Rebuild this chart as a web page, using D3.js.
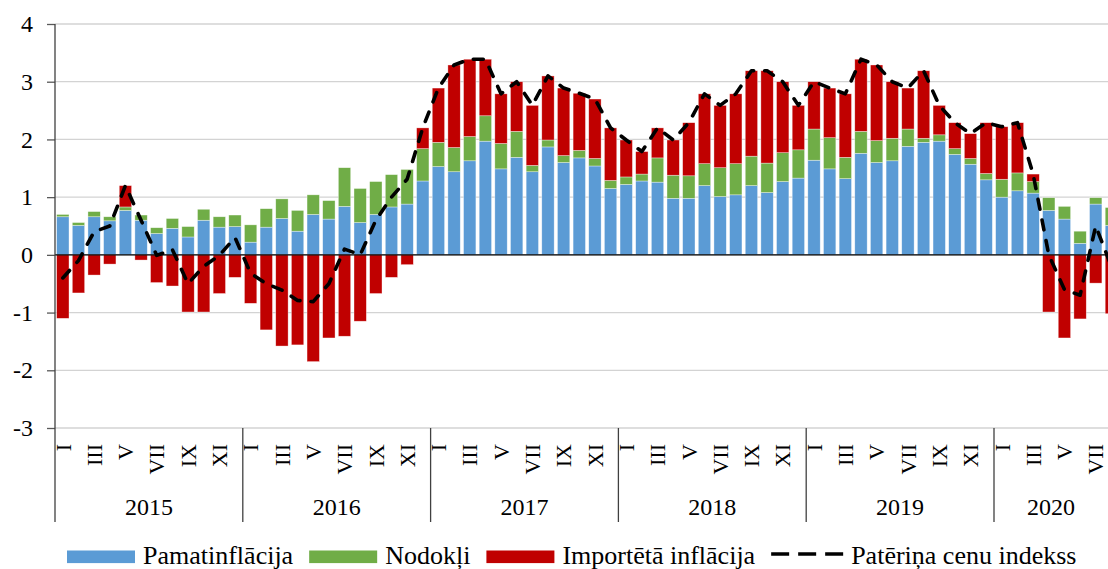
<!doctype html>
<html>
<head>
<meta charset="utf-8">
<style>
  body { margin: 0; background: #fff; }
  svg { display: block; font-family: "Liberation Serif", "Times New Roman", serif; }
  .grid line { stroke: #d3d3d3; stroke-width: 1.3; }
</style>
<script src="https://d3js.org/d3.v7.min.js"></script>
</head>
<body>
<svg width="1108" height="569"></svg>
<script>
// monthly data, Jan 2015 - Aug 2020
var years = ["2015", "2016", "2017", "2018", "2019", "2020"];
var monthLabels = ["I", "", "III", "", "V", "", "VII", "", "IX", "", "XI", ""];

var pamatinflacija = [
  0.66, 0.51, 0.66, 0.59, 0.77, 0.60, 0.37, 0.46, 0.31, 0.60, 0.48, 0.49,
  0.22, 0.48, 0.63, 0.41, 0.70, 0.62, 0.84, 0.56, 0.70, 0.83, 0.88, 1.28,
  1.53, 1.44, 1.63, 1.97, 1.49, 1.69, 1.44, 1.87, 1.60, 1.68, 1.54, 1.15,
  1.22, 1.28, 1.26, 0.98, 0.98, 1.20, 1.01, 1.04, 1.20, 1.08, 1.27, 1.33,
  1.64, 1.49, 1.32, 1.76, 1.60, 1.63, 1.88, 1.95, 1.97, 1.74, 1.57, 1.30,
  1.00, 1.11, 1.07, 0.77, 0.62, 0.20, 0.88, 0.51
];
var nodokli = [
  0.04, 0.05, 0.09, 0.07, 0.06, 0.09, 0.10, 0.17, 0.18, 0.19, 0.18, 0.20,
  0.30, 0.32, 0.34, 0.36, 0.34, 0.32, 0.67, 0.59, 0.57, 0.56, 0.60, 0.56,
  0.42, 0.42, 0.42, 0.44, 0.44, 0.45, 0.11, 0.12, 0.12, 0.13, 0.13, 0.14,
  0.13, 0.12, 0.42, 0.40, 0.39, 0.38, 0.50, 0.54, 0.51, 0.51, 0.50, 0.49,
  0.54, 0.54, 0.37, 0.38, 0.38, 0.39, 0.30, 0.07, 0.11, 0.10, 0.10, 0.11,
  0.31, 0.31, 0.20, 0.22, 0.22, 0.21, 0.11, 0.31
];
var importeta = [
  -1.10, -0.66, -0.35, -0.16, 0.37, -0.09, -0.48, -0.54, -0.99, -0.99, -0.67, -0.39,
  -0.84, -1.30, -1.58, -1.56, -1.85, -1.44, -1.41, -1.15, -0.67, -0.39, -0.17, 0.36,
  0.94, 1.43, 1.34, 0.98, 0.86, 0.86, 1.04, 1.11, 1.17, 0.99, 1.03, 0.91,
  0.64, 0.39, 0.52, 0.61, 0.92, 1.21, 1.08, 1.21, 1.48, 1.60, 1.23, 0.77,
  0.82, 0.86, 1.10, 1.25, 1.31, 0.98, 0.71, 1.17, 0.51, 0.45, 0.43, 0.88,
  0.91, 0.87, 0.13, -0.99, -1.44, -1.11, -0.49, -1.02
];
var pci = [
  -0.40, -0.10, 0.40, 0.50, 1.20, 0.60, -0.01, 0.09, -0.50, -0.20, -0.01, 0.30,
  -0.32, -0.50, -0.61, -0.79, -0.81, -0.50, 0.10, 0.00, 0.60, 1.00, 1.31, 2.20,
  2.89, 3.29, 3.39, 3.39, 2.79, 3.00, 2.59, 3.10, 2.89, 2.80, 2.70, 2.20,
  1.99, 1.79, 2.20, 1.99, 2.29, 2.79, 2.59, 2.79, 3.19, 3.19, 3.00, 2.59,
  3.00, 2.89, 2.79, 3.39, 3.29, 3.00, 2.89, 3.19, 2.59, 2.29, 2.10, 2.29,
  2.22, 2.29, 1.40, 0.00, -0.60, -0.70, 0.50, -0.20
];

var seriesNames = ["Pamatinflācija", "Nodokļi", "Importētā inflācija"];
var lineName = "Patēriņa cenu indekss";
var colors = ["#5b9bd5", "#70ad47", "#c00000"];

var svg = d3.select("svg");
var plotLeft = 55, plotTop = 24, plotBottom = 428, axisEnd = 522;
var n = pci.length;
var step = 15.65;

var x = d3.scaleBand()
  .domain(d3.range(n))
  .range([plotLeft, plotLeft + n * step])
  .paddingInner(0.21)
  .paddingOuter(0.105);

var y = d3.scaleLinear().domain([-3, 4]).range([plotBottom, plotTop]);

var table = d3.range(n).map(function(i) {
  return { i: i, a: pamatinflacija[i], b: nodokli[i], c: importeta[i] };
});

var stack = d3.stack().keys(["a", "b", "c"]).offset(d3.stackOffsetDiverging);
var layers = stack(table);

// grid
svg.append("g").attr("class", "grid")
  .selectAll("line").data(d3.range(-3, 5)).enter().append("line")
  .attr("x1", plotLeft).attr("x2", 1108)
  .attr("y1", function(d) { return y(d); })
  .attr("y2", function(d) { return y(d); });

// bars
svg.append("g").selectAll("g").data(layers).enter().append("g")
  .attr("fill", function(d, k) { return colors[k]; })
  .selectAll("rect").data(function(d) { return d; }).enter().append("rect")
  .attr("x", function(d) { return x(d.data.i); })
  .attr("width", x.bandwidth())
  .attr("y", function(d) { return y(Math.max(d[0], d[1])); })
  .attr("height", function(d) { return Math.abs(y(d[0]) - y(d[1])); })
  .attr("stroke", "#fff").attr("stroke-width", 0.6).attr("stroke-opacity", 0.6);

// zero line
svg.append("line")
  .attr("x1", plotLeft).attr("x2", 1108)
  .attr("y1", y(0)).attr("y2", y(0))
  .attr("stroke", "#000").attr("stroke-width", 1.3);

// CPI line
var line = d3.line()
  .x(function(d, i) { return x(i) + x.bandwidth() / 2; })
  .y(function(d) { return y(d); });

svg.append("path")
  .datum(pci)
  .attr("d", line)
  .attr("fill", "none")
  .attr("stroke", "#000")
  .attr("stroke-width", 3.6)
  .attr("stroke-linecap", "round")
  .attr("stroke-linejoin", "round")
  .attr("stroke-dasharray", "10,11");

// y axis
var yAxis = svg.append("g")
  .attr("transform", "translate(" + plotLeft + ",0)")
  .call(d3.axisLeft(y).tickValues(d3.range(-3, 5)).tickSize(8).tickPadding(14)
    .tickFormat(function(d) { return d; }));
yAxis.select(".domain").remove();
yAxis.selectAll(".tick line").attr("stroke", "#595959").attr("stroke-width", 1.3);
yAxis.selectAll("text").attr("font-size", 24).attr("fill", "#000")
  .attr("font-family", "Liberation Serif");

svg.append("line")
  .attr("x1", plotLeft).attr("x2", plotLeft)
  .attr("y1", plotTop).attr("y2", axisEnd)
  .attr("stroke", "#404040").attr("stroke-width", 1.3);

// month labels
var xAxis = svg.append("g")
  .attr("transform", "translate(0," + plotBottom + ")")
  .call(d3.axisBottom(x).tickSize(0).tickFormat(function(i) { return monthLabels[i % 12]; }));
xAxis.select(".domain").remove();
xAxis.selectAll("text")
  .attr("transform", "rotate(-90)")
  .attr("x", -16).attr("y", 0).attr("dy", "0.35em")
  .attr("text-anchor", "end")
  .attr("font-size", 22).attr("fill", "#000")
  .attr("font-family", "Liberation Serif");

// year separators and labels
var edge = (x.step() - x.bandwidth()) / 2;
years.forEach(function(yr, k) {
  var first = k * 12;
  var last = Math.min(first + 11, n - 1);
  var x0 = x(first) - edge;
  var x1 = x(last) + x.bandwidth() + edge;
  if (k > 0) {
    svg.append("line")
      .attr("x1", x0).attr("x2", x0)
      .attr("y1", plotBottom).attr("y2", axisEnd)
      .attr("stroke", "#404040").attr("stroke-width", 1.3);
  }
  svg.append("text")
    .attr("x", (x0 + Math.min(x1, 1108)) / 2)
    .attr("y", 515)
    .attr("text-anchor", "middle")
    .attr("font-size", 24)
    .text(yr);
});

// legend
var lg = svg.append("g").attr("font-size", 26);
var lx = 67, ly = 557;
seriesNames.forEach(function(name, k) {
  lg.append("rect").attr("x", lx).attr("y", ly - 6.5).attr("width", 68).attr("height", 12.6)
    .attr("fill", colors[k]);
  var t = lg.append("text").attr("x", lx + 76).attr("y", ly + 7).text(name);
  lx = lx + 76 + t.node().getComputedTextLength() + 16;
});
lg.append("line")
  .attr("x1", lx).attr("x2", lx + 72)
  .attr("y1", ly - 3).attr("y2", ly - 3)
  .attr("stroke", "#000").attr("stroke-width", 3.6)
  .attr("stroke-dasharray", "18,9");
lg.append("text").attr("x", lx + 80).attr("y", ly + 7).text(lineName);
</script>
</body>
</html>
